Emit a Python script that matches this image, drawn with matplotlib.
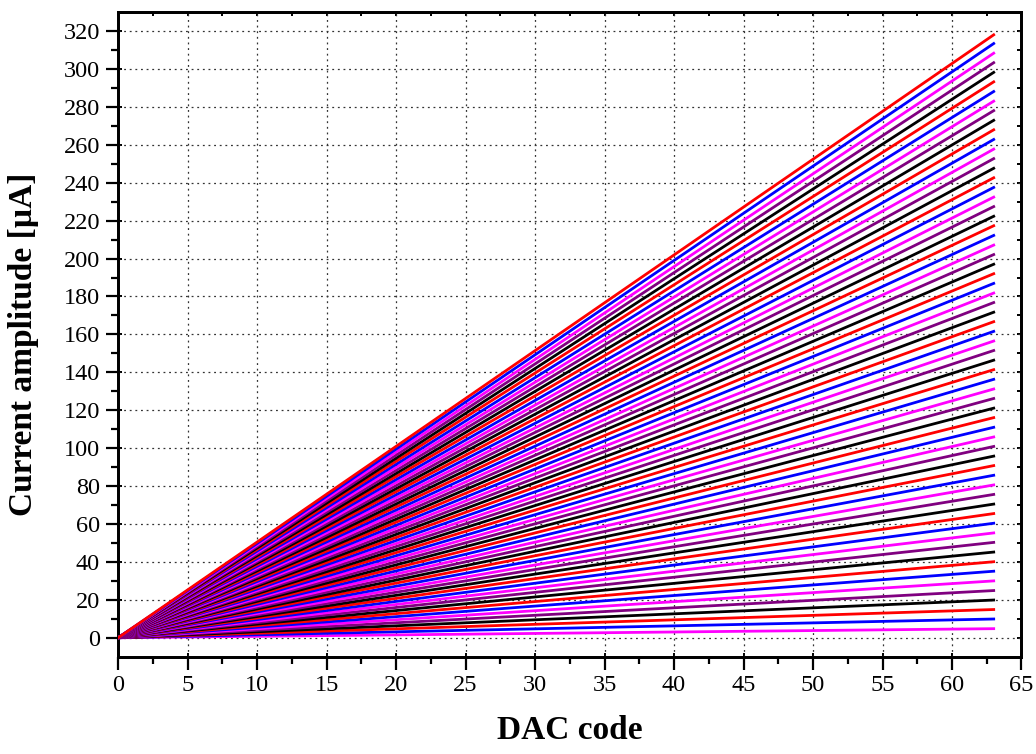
import matplotlib.pyplot as plt
import numpy as np

plt.rcParams['font.family'] = ['Liberation Serif', 'DejaVu Serif']

# end value (at DAC code 63) of each amplitude range line, in uA, bottom to top
endValues = [4.8, 9.9, 14.9, 19.9, 24.9, 30.0, 35.1, 40.1, 45.2, 50.3,
             55.3, 60.4, 65.5, 70.5, 75.6, 80.6, 85.7, 90.8, 95.8, 100.9,
             105.9, 111.0, 116.1, 121.1, 126.2, 131.2, 136.3, 141.4, 146.4, 151.5,
             156.5, 161.6, 166.7, 171.7, 176.8, 181.8, 186.9, 192.0, 197.0, 202.1,
             207.1, 212.2, 217.3, 222.3, 227.4, 232.4, 237.5, 242.6, 247.6, 252.7,
             257.7, 262.8, 267.9, 272.9, 278.0, 283.0, 288.1, 293.2, 298.2, 303.3,
             308.3, 313.4, 318.0]
dacCodes = np.arange(0, 64)
lineColors = ["#ff00ff", "#0000ff", "#ff0000", "#000000", "#800080"]

xMajor = np.arange(0, 66, 5)
xMinor = np.arange(2.5, 65, 5)
yMajor = np.arange(0, 321, 20)
yMinor = np.arange(10, 330, 20)

fig = plt.figure(figsize=(10.36, 7.54), dpi=100)
ax = fig.add_axes([0.114, 0.129, 0.872, 0.855])

for i, endValue in enumerate(endValues):
    current = endValue * dacCodes / dacCodes[-1]
    ax.plot(dacCodes, current, color=lineColors[i % 5], linewidth=2.0, zorder=3)

ax.set_xlim(0, 65)
ax.set_ylim(-10, 330)
ax.set_xticks(xMajor)
ax.set_xticks(xMinor, minor=True)
ax.set_yticks(yMajor)
ax.set_yticks(yMinor, minor=True)

ax.grid(True, which="major", linestyle=(0, (1.5, 3)), color="#333333", linewidth=0.9, zorder=1)

ax.tick_params(which="both", direction="out", width=1.6, labelsize=17.5, top=False, right=False)
ax.tick_params(which="major", length=9, pad=4)
ax.tick_params(which="minor", length=5)

# short inward stubs of the major ticks on bottom/left, inward ticks on top/right
for side in ("bottom", "top"):
    sx = ax.secondary_xaxis(side)
    sx.set_xticks(xMajor)
    if side == "top":
        sx.set_xticks(xMinor, minor=True)
    sx.tick_params(which="both", direction="in", length=3, width=1.4,
                   labelbottom=False, labeltop=False)
    for s in sx.spines.values():
        s.set_linewidth(2)
for side in ("left", "right"):
    sy = ax.secondary_yaxis(side)
    sy.set_yticks(yMajor)
    if side == "right":
        sy.set_yticks(yMinor, minor=True)
    sy.tick_params(which="both", direction="in", length=3, width=1.4,
                   labelleft=False, labelright=False)
    for s in sy.spines.values():
        s.set_linewidth(2)

for s in ax.spines.values():
    s.set_linewidth(2)

ax.set_xlabel("DAC code", fontsize=24, fontweight="bold", labelpad=14)
ax.set_ylabel("Current amplitude [µA]", fontsize=24, fontweight="bold")
ax.yaxis.set_label_coords(-0.088, 0.484)

fig.savefig("out.png", dpi=100)
